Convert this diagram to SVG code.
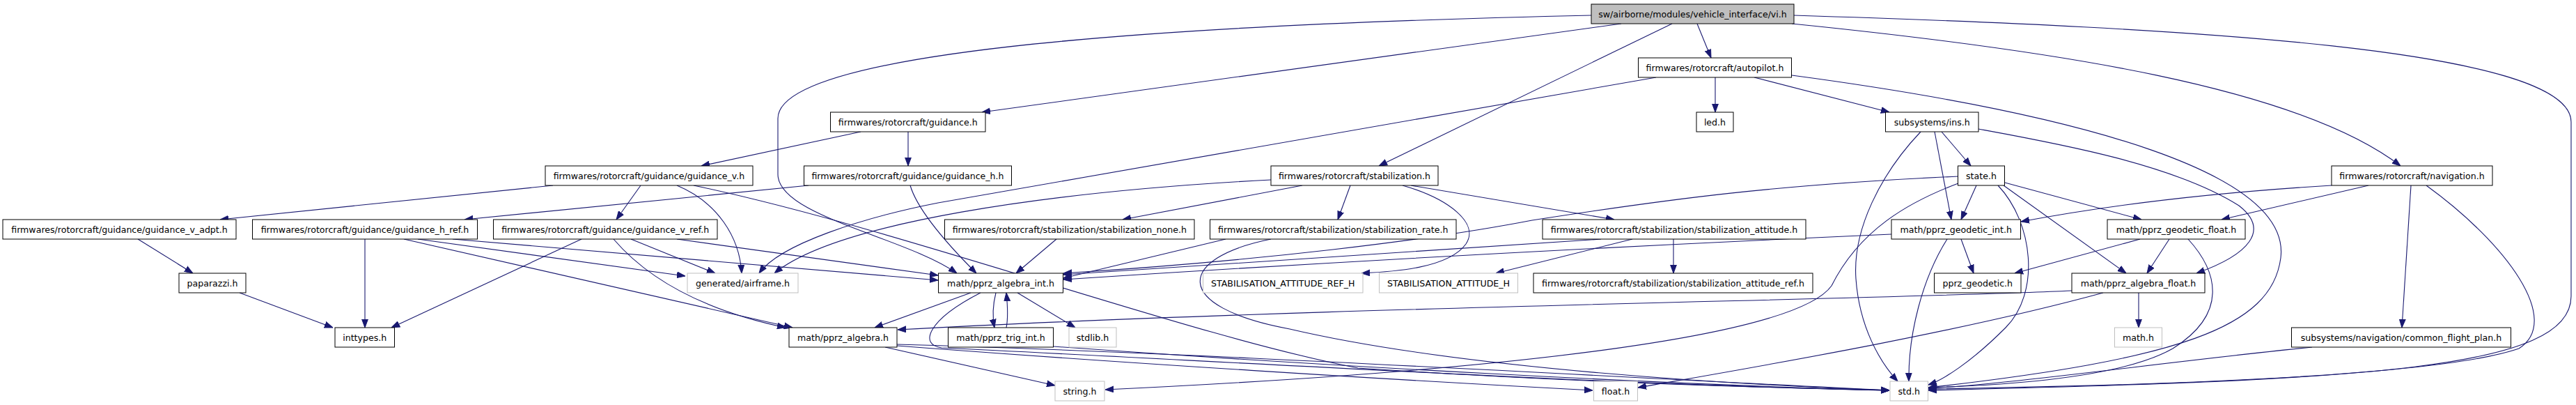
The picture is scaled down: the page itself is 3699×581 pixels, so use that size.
<svg xmlns="http://www.w3.org/2000/svg" width="3699" height="581" viewBox="0 0 3699 581">
<style>
.n rect{fill:#fff;stroke:#000;stroke-width:1}
.g rect{fill:#fff;stroke:#bfbfbf;stroke-width:1}
.m rect{fill:#bfbfbf;stroke:#000;stroke-width:1}
text{font-family:"DejaVu Sans","Liberation Sans",sans-serif;font-size:12.6px;text-anchor:middle;fill:#000}
#edges path{fill:none;stroke:#191970;stroke-width:1.1;marker-end:url(#a)}
</style>
<defs>
<marker id="a" markerUnits="userSpaceOnUse" markerWidth="12" markerHeight="10" refX="12" refY="5" orient="auto">
<path d="M0,0.6 L12,5 L0,9.4 z" fill="#191970" stroke="#191970" stroke-width="1"/>
</marker>
</defs>
<rect width="3699" height="581" fill="#fff"/>
<g id="edges">
<path d="M2437,34 L2457,83"/>
<path d="M2328,34 L1410,161"/>
<path d="M2401,34 L1980,238"/>
<path d="M2573,34 C2950,72 3300,125 3447,238"/>
<path d="M2576,22 C3150,40 3692,70 3692,175 L3692,425 C3692,530 3400,545 2769,560"/>
<path d="M2285,22 C1700,35 1117,70 1117,170 L1117,250 C1117,310 1300,340 1374,392"/>
<path d="M2463,111 L2463,161"/>
<path d="M2519,111 L2713,161"/>
<path d="M2378,111 L1347,291 C1240,312 1120,350 1090,392"/>
<path d="M2573,108 C3000,165 3290,250 3275,370 C3262,470 3130,515 2769,556"/>
<path d="M1304,189 L1304,238"/>
<path d="M1236,189 L1007,238"/>
<path d="M794,266 L316,315"/>
<path d="M920,266 L885,315"/>
<path d="M972,266 C1030,290 1062,340 1065,392"/>
<path d="M996,266 C1300,330 1700,480 1950,528 C2250,548 2500,555 2713,560"/>
<path d="M1161,266 L667,315"/>
<path d="M1307,266 C1317,300 1360,350 1402,392"/>
<path d="M198,343 L277,392"/>
<path d="M344,420 L478,470"/>
<path d="M524,343 L524,470"/>
<path d="M600,343 L984,396"/>
<path d="M580,343 L1138,470"/>
<path d="M650,343 L1347,402"/>
<path d="M835,343 L562,470"/>
<path d="M906,343 L1027,392"/>
<path d="M881,343 C930,400 1010,445 1128,470"/>
<path d="M972,343 L1347,395"/>
<path d="M1870,266 L1612,315"/>
<path d="M1939,266 L1921,315"/>
<path d="M2026,266 L2318,315"/>
<path d="M1825,258 C1500,275 1200,320 1112,392"/>
<path d="M2014,266 C2080,285 2125,320 2105,350 C2080,385 2000,390 1955,392"/>
<path d="M1517,343 L1459,392"/>
<path d="M1760,343 L1527,399"/>
<path d="M1825,343 C1690,370 1680,440 1852,472 C2100,530 2500,552 2713,560"/>
<path d="M2344,343 L2148,392"/>
<path d="M2299,343 C2000,365 1700,385 1527,394"/>
<path d="M2403,343 L2403,392"/>
<path d="M2812,253 C2550,265 2400,285 2200,316 C2050,345 1800,375 1527,392"/>
<path d="M2812,263 C2740,290 2670,330 2630,410 C2580,480 2200,530 1587,559"/>
<path d="M2838,266 L2816,315"/>
<path d="M2869,266 C2920,320 2930,420 2880,470 C2830,520 2790,545 2769,552"/>
<path d="M2877,266 L3053,392"/>
<path d="M2879,262 L3075,315"/>
<path d="M2788,189 L2830,238"/>
<path d="M2778,189 L2802,315"/>
<path d="M2758,189 C2700,250 2660,330 2665,400 C2670,470 2700,520 2725,547"/>
<path d="M2841,185 C2950,205 3120,235 3215,295 C3260,330 3230,365 3154,392"/>
<path d="M2716,336 C2400,350 2000,370 1527,401"/>
<path d="M2816,343 L2834,392"/>
<path d="M2796,343 C2760,400 2740,480 2741,547"/>
<path d="M3073,343 L2893,392"/>
<path d="M3115,343 L3083,392"/>
<path d="M3142,343 C3185,390 3200,450 3120,500 C3050,540 2900,552 2769,556"/>
<path d="M3071,420 L3071,470"/>
<path d="M2975,417 C2700,430 1900,440 1289,473"/>
<path d="M3020,420 C2800,480 2500,530 2352,556"/>
<path d="M3348,266 C3200,275 3050,290 2902,318"/>
<path d="M3401,266 L3190,315"/>
<path d="M3462,266 L3449,470"/>
<path d="M3484,266 C3600,350 3680,460 3617,500 C3500,540 3100,553 2769,558"/>
<path d="M3320,498 C3100,520 2900,550 2769,557"/>
<path d="M1394,420 L1256,470"/>
<path d="M1430,420 C1425,440 1425,455 1428,470"/>
<path d="M1445,470 C1448,455 1447,440 1445,420"/>
<path d="M1461,420 L1544,470"/>
<path d="M1408,420 C1330,460 1320,495 1352,499 C1700,515 2300,552 2713,560"/>
<path d="M1513,497 C1900,525 2400,552 2713,560"/>
<path d="M1271,498 L1515,553"/>
<path d="M1288,496 C1600,520 2000,545 2287,560"/>
<path d="M1288,494 C1700,505 2300,540 2713,560"/>
</g>
<g id="vi" class="m"><rect x="2285" y="6" width="291" height="28"/><text x="2430.5" y="24.5">sw/airborne/modules/vehicle_interface/vi.h</text></g>
<g id="autopilot" class="n"><rect x="2352.5" y="83" width="220" height="28"/><text x="2462.5" y="101.5">firmwares/rotorcraft/autopilot.h</text></g>
<g id="guidance" class="n"><rect x="1192.5" y="161" width="222.5" height="28"/><text x="1303.75" y="179.5">firmwares/rotorcraft/guidance.h</text></g>
<g id="led" class="n"><rect x="2436" y="161" width="53" height="28"/><text x="2462.5" y="179.5">led.h</text></g>
<g id="ins" class="n"><rect x="2707.5" y="161" width="133.5" height="28"/><text x="2774.25" y="179.5">subsystems/ins.h</text></g>
<g id="guidance_v" class="n"><rect x="783" y="238" width="298" height="28"/><text x="932" y="256.5">firmwares/rotorcraft/guidance/guidance_v.h</text></g>
<g id="guidance_h" class="n"><rect x="1154.5" y="238" width="298" height="28"/><text x="1303.5" y="256.5">firmwares/rotorcraft/guidance/guidance_h.h</text></g>
<g id="stabilization" class="n"><rect x="1825" y="238" width="240" height="28"/><text x="1945" y="256.5">firmwares/rotorcraft/stabilization.h</text></g>
<g id="state" class="n"><rect x="2811.5" y="238" width="67" height="28"/><text x="2845" y="256.5">state.h</text></g>
<g id="navigation" class="n"><rect x="3348" y="238" width="231" height="28"/><text x="3463.5" y="256.5">firmwares/rotorcraft/navigation.h</text></g>
<g id="guidance_v_adpt" class="n"><rect x="4" y="315" width="335" height="28"/><text x="171.5" y="333.5">firmwares/rotorcraft/guidance/guidance_v_adpt.h</text></g>
<g id="guidance_h_ref" class="n"><rect x="362.5" y="315" width="323" height="28"/><text x="524" y="333.5">firmwares/rotorcraft/guidance/guidance_h_ref.h</text></g>
<g id="guidance_v_ref" class="n"><rect x="708.5" y="315" width="321.5" height="28"/><text x="869.25" y="333.5">firmwares/rotorcraft/guidance/guidance_v_ref.h</text></g>
<g id="stab_none" class="n"><rect x="1356.5" y="315" width="358.5" height="28"/><text x="1535.75" y="333.5">firmwares/rotorcraft/stabilization/stabilization_none.h</text></g>
<g id="stab_rate" class="n"><rect x="1737.5" y="315" width="353.5" height="28"/><text x="1914.25" y="333.5">firmwares/rotorcraft/stabilization/stabilization_rate.h</text></g>
<g id="stab_att" class="n"><rect x="2215" y="315" width="378" height="28"/><text x="2404" y="333.5">firmwares/rotorcraft/stabilization/stabilization_attitude.h</text></g>
<g id="geodetic_int" class="n"><rect x="2716" y="315" width="185.5" height="28"/><text x="2808.75" y="333.5">math/pprz_geodetic_int.h</text></g>
<g id="geodetic_float" class="n"><rect x="3026" y="315" width="198" height="28"/><text x="3125" y="333.5">math/pprz_geodetic_float.h</text></g>
<g id="paparazzi" class="n"><rect x="257" y="392" width="96" height="28"/><text x="305" y="410.5">paparazzi.h</text></g>
<g id="airframe" class="g"><rect x="987" y="392" width="159" height="28"/><text x="1066.5" y="410.5">generated/airframe.h</text></g>
<g id="algebra_int" class="n"><rect x="1347.5" y="392" width="179" height="28"/><text x="1437" y="410.5">math/pprz_algebra_int.h</text></g>
<g id="sar" class="g"><rect x="1727.5" y="392" width="229.5" height="28"/><text x="1842.25" y="410.5">STABILISATION_ATTITUDE_REF_H</text></g>
<g id="sa" class="g"><rect x="1980.5" y="392" width="199" height="28"/><text x="2080" y="410.5">STABILISATION_ATTITUDE_H</text></g>
<g id="stab_att_ref" class="n"><rect x="2202" y="392" width="401" height="28"/><text x="2402.5" y="410.5">firmwares/rotorcraft/stabilization/stabilization_attitude_ref.h</text></g>
<g id="geodetic" class="n"><rect x="2777.5" y="392" width="124.5" height="28"/><text x="2839.75" y="410.5">pprz_geodetic.h</text></g>
<g id="algebra_float" class="n"><rect x="2975" y="392" width="191" height="28"/><text x="3070.5" y="410.5">math/pprz_algebra_float.h</text></g>
<g id="inttypes" class="n"><rect x="481" y="470" width="85.5" height="28"/><text x="523.75" y="488.5">inttypes.h</text></g>
<g id="algebra" class="n"><rect x="1133" y="470" width="155" height="28"/><text x="1210.5" y="488.5">math/pprz_algebra.h</text></g>
<g id="trig_int" class="n"><rect x="1361.5" y="470" width="151" height="28"/><text x="1437" y="488.5">math/pprz_trig_int.h</text></g>
<g id="stdlib" class="g"><rect x="1535" y="470" width="68" height="28"/><text x="1569" y="488.5">stdlib.h</text></g>
<g id="math" class="g"><rect x="3036.5" y="470" width="68" height="28"/><text x="3070.5" y="488.5">math.h</text></g>
<g id="cfp" class="n"><rect x="3290.5" y="470" width="315" height="28"/><text x="3448" y="488.5">subsystems/navigation/common_flight_plan.h</text></g>
<g id="string" class="g"><rect x="1515" y="547" width="71" height="28"/><text x="1550.5" y="565.5">string.h</text></g>
<g id="float" class="g"><rect x="2288.5" y="547" width="63" height="28"/><text x="2320" y="565.5">float.h</text></g>
<g id="std" class="g"><rect x="2714" y="547" width="54.5" height="28"/><text x="2741.25" y="565.5">std.h</text></g>
</svg>
